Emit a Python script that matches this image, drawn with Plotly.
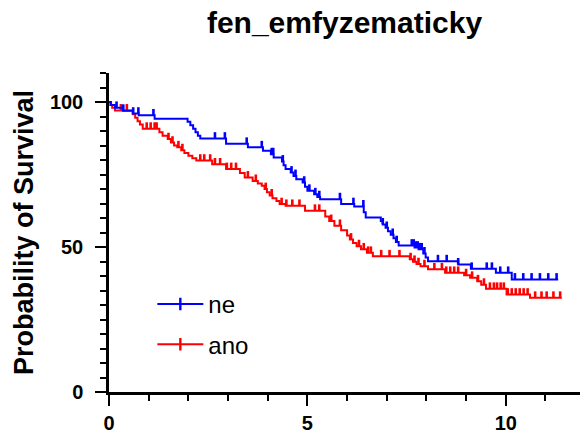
import bisect
import plotly.graph_objects as go

# Kaplan-Meier steps: event times (years) and survival (%) after each drop
ne_times = [0.05, 0.15, 0.35, 0.6, 0.75, 1.15, 1.98, 2.05, 2.12, 2.18, 2.24, 2.3,
            2.95, 3.5, 3.88, 4.08, 4.15, 4.36, 4.4, 4.45, 4.58, 4.65, 4.72, 4.88,
            4.94, 5.0, 5.17, 5.25, 5.32, 5.85, 6.18, 6.42, 6.47, 6.85, 6.9, 6.97,
            7.03, 7.1, 7.17, 7.23, 7.3, 7.7, 7.8, 7.92, 7.98, 8.04, 8.8, 9.12,
            9.75, 10.15]
ne_surv = [99.0, 98.0, 97.0, 96.0, 95.4, 94.2, 93.2, 92.0, 90.8, 89.6, 88.4, 87.4,
           85.6, 84.4, 83.2, 82.0, 80.9, 79.5, 78.2, 76.9, 75.7, 74.5, 73.4, 72.2,
           70.8, 69.4, 68.2, 67.2, 66.5, 64.8, 64.0, 62.0, 60.2, 59.0, 57.8, 56.6,
           55.4, 54.2, 53.0, 51.7, 50.5, 49.8, 49.2, 47.8, 46.4, 45.1, 44.0, 42.5,
           41.1, 38.8]
ne_censored = [0.19, 0.36, 0.61, 0.74, 1.12, 2.67, 2.92, 3.47, 3.85, 4.1, 4.14, 4.38,
               4.6, 4.7, 4.92, 5.05, 5.2, 5.3, 5.82, 6.16, 6.41, 6.9, 7.0, 7.15,
               7.25, 7.63, 7.68, 7.73, 7.78, 7.83, 7.88, 7.95, 8.29, 8.51, 8.8, 9.14,
               9.52, 9.65, 9.86, 10.06, 10.23, 10.44, 10.65, 10.86, 11.07, 11.28]
ne_end = 11.32

ano_times = [0.03, 0.08, 0.15, 0.6, 0.66, 0.72, 0.78, 0.85, 1.27, 1.35, 1.48, 1.56,
             1.64, 1.72, 1.82, 1.9, 2.0, 2.1, 2.2, 2.6, 2.95, 3.3, 3.42, 3.62,
             3.75, 3.85, 3.92, 3.98, 4.05, 4.12, 4.22, 4.3, 4.45, 4.94, 5.45, 5.55,
             5.68, 5.85, 6.0, 6.07, 6.15, 6.24, 6.35, 6.5, 6.65, 7.58, 7.66, 7.75,
             7.85, 8.04, 8.47, 8.95, 9.1, 9.28, 9.38, 9.5, 10.02, 10.61]
ano_surv = [99.0, 98.0, 97.1, 95.8, 94.6, 93.4, 92.2, 90.8, 89.6, 88.4, 87.2, 86.0,
            85.0, 84.4, 83.4, 82.4, 81.5, 80.6, 79.8, 78.5, 76.9, 75.5, 74.0, 72.8,
            71.9, 71.1, 70.0, 68.9, 67.8, 66.8, 65.9, 64.8, 64.2, 62.5, 60.5, 59.0,
            57.3, 55.8, 54.0, 52.6, 51.4, 50.3, 49.2, 48.0, 46.8, 45.8, 44.9, 44.1,
            43.4, 42.3, 41.1, 40.3, 39.4, 38.2, 37.0, 35.6, 33.6, 32.5]
ano_censored = [0.3, 0.45, 0.95, 1.05, 1.15, 1.2, 1.5, 1.6, 1.75, 1.85, 2.3, 2.4,
                2.55, 2.67, 2.8, 2.97, 3.08, 3.2, 3.5, 3.7, 3.95, 4.1, 4.35, 4.47,
                4.62, 4.8, 5.19, 5.3, 5.6, 5.82, 6.1, 6.3, 6.42, 6.53, 6.6, 6.86,
                7.07, 7.32, 7.6, 7.7, 7.8, 7.95, 8.2, 8.39, 8.5, 8.6, 8.7, 8.8,
                9.0, 9.15, 9.3, 9.45, 9.6, 9.7, 9.78, 9.87, 9.95, 10.05, 10.15, 10.25,
                10.35, 10.45, 10.55, 10.74, 10.9, 11.03, 11.2, 11.37]
ano_end = 11.41

FONT = "Liberation Sans, Arial, sans-serif"


def surv_at(t, times, surv):
    i = bisect.bisect_right(times, t)
    return 100.0 if i == 0 else surv[i - 1]


fig = go.Figure()

groups = [
    ("ano", ano_times, ano_surv, ano_censored, ano_end, "#ff0000"),
    ("ne", ne_times, ne_surv, ne_censored, ne_end, "#0000ff"),
]

for name, times, surv, cens, t_end, color in groups:
    # step curve
    fig.add_trace(go.Scatter(
        x=[0] + times + [t_end],
        y=[100] + surv + [surv[-1]],
        mode="lines",
        line=dict(color=color, width=2, shape="hv"),
        showlegend=False,
        hoverinfo="skip",
    ))
    # censor ticks (upward marks)
    fig.add_trace(go.Scatter(
        x=cens,
        y=[surv_at(t, times, surv) for t in cens],
        mode="markers",
        marker=dict(size=1, color=color),
        error_y=dict(type="data", symmetric=False, array=[2.2] * len(cens),
                     arrayminus=[0] * len(cens), color=color, thickness=2.6, width=0),
        showlegend=False,
        hoverinfo="skip",
    ))

# legend entries (ne first, then ano)
for name, color in [("ne", "#0000ff"), ("ano", "#ff0000")]:
    fig.add_trace(go.Scatter(
        x=[None], y=[None],
        mode="lines+markers",
        name=name,
        legendgroup=name,
        line=dict(color=color, width=2),
        marker=dict(symbol="line-ns-open", size=9, line=dict(width=2.4, color=color)),
    ))

fig.update_layout(
    width=581,
    height=434,
    margin=dict(l=109, r=1, t=73, b=42),
    paper_bgcolor="white",
    plot_bgcolor="white",
    font=dict(family=FONT, color="black"),
    title=dict(
        text="fen_emfyzematicky",
        x=0.5, xref="paper", xanchor="center",
        y=1 - 22 / 434, yref="container", yanchor="middle",
        font=dict(family=FONT, size=30, color="black", weight="bold"),
    ),
    legend=dict(
        x=0.092, y=0.345, xanchor="left", yanchor="top",
        traceorder="grouped", tracegroupgap=6,
        font=dict(family=FONT, size=24, color="black"),
        bgcolor="rgba(0,0,0,0)",
        itemwidth=46,
    ),
    showlegend=True,
)

fig.update_xaxes(
    range=[0, 11.87],
    automargin=False,
    showgrid=False, zeroline=False,
    showline=True, linecolor="black", linewidth=2.5,
    ticks="outside", tickcolor="black", tickwidth=2, ticklen=11,
    tick0=0, dtick=5,
    minor=dict(ticks="outside", tickcolor="black", tickwidth=2, ticklen=6, dtick=1, tick0=0),
    tickfont=dict(family=FONT, size=20, color="black", weight="bold"),
    ticklabelstandoff=0,
)

fig.update_yaxes(
    range=[0, 110],
    automargin=False,
    showgrid=False, zeroline=False,
    showline=True, linecolor="black", linewidth=2.5,
    ticks="outside", tickcolor="black", tickwidth=2, ticklen=11,
    tick0=0, dtick=50,
    minor=dict(ticks="outside", tickcolor="black", tickwidth=2, ticklen=6, dtick=5, tick0=0),
    tickfont=dict(family=FONT, size=20, color="black", weight="bold"),
    ticklabelstandoff=8,
    title=dict(text="Probability of Survival", standoff=9,
               font=dict(family=FONT, size=27, color="black", weight="bold")),
)

# drop the browser's default page margin so the figure sits at the window corner
fig.write_html("out.html", config={"displayModeBar": False},
               post_script="document.body.style.margin='0';")
